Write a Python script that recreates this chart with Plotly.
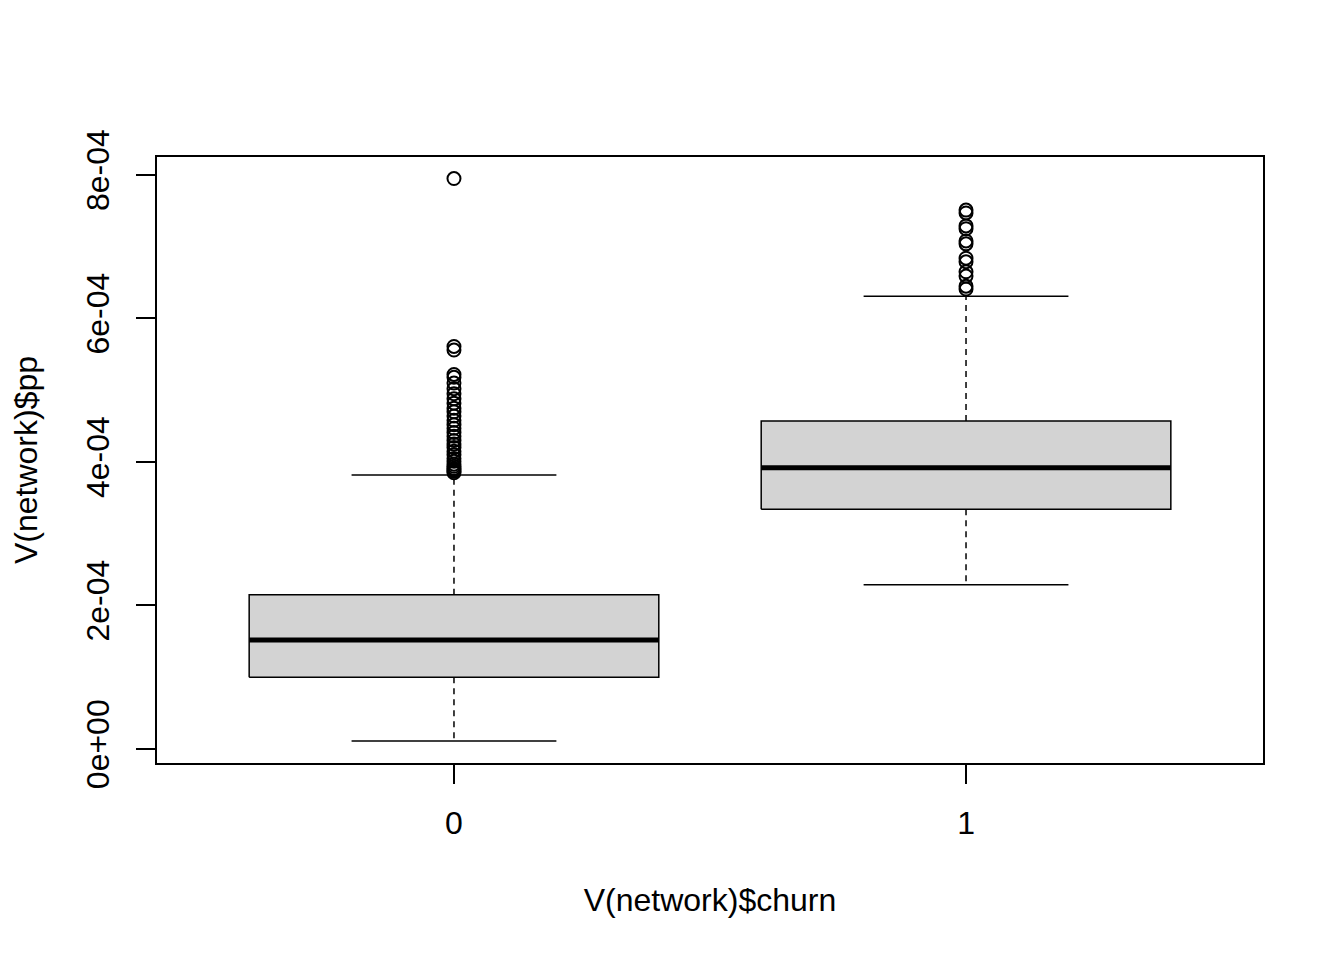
import plotly.graph_objects as go

categories = ["0", "1"]
lower_whisker = [1.1e-5, 2.29e-4]
q1 = [1.00e-4, 3.34e-4]
median = [1.52e-4, 3.92e-4]
q3 = [2.15e-4, 4.57e-4]
upper_whisker = [3.82e-4, 6.31e-4]
outliers_0 = [7.95e-4, 5.61e-4, 5.56e-4, 5.22e-4, 5.18e-4, 5.10e-4, 5.02e-4, 4.95e-4,
              4.88e-4, 4.82e-4, 4.75e-4, 4.70e-4, 4.64e-4, 4.58e-4, 4.52e-4, 4.47e-4,
              4.41e-4, 4.36e-4, 4.30e-4, 4.25e-4, 4.20e-4, 4.15e-4, 4.10e-4, 4.05e-4,
              4.01e-4, 3.97e-4, 3.94e-4, 3.91e-4, 3.89e-4, 3.87e-4, 3.85e-4]
outliers_1 = [7.51e-4, 7.47e-4, 7.29e-4, 7.25e-4, 7.08e-4, 7.04e-4, 6.84e-4, 6.79e-4,
              6.65e-4, 6.59e-4, 6.45e-4, 6.41e-4]
outliers = [outliers_0, outliers_1]
ytick_vals = [0, 2e-4, 4e-4, 6e-4, 8e-4]
ytick_text = ["0e+00", "2e-04", "4e-04", "6e-04", "8e-04"]

FONT = "Liberation Sans, Arial, sans-serif"
half_box = 0.4
half_cap = 0.2

fig = go.Figure()
for i, cat in enumerate(categories):
    p = i + 1
    fig.add_trace(go.Scatter(
        x=[p - half_box, p + half_box, p + half_box, p - half_box, p - half_box],
        y=[q1[i], q1[i], q3[i], q3[i], q1[i]],
        mode="lines", fill="toself", fillcolor="#D3D3D3",
        line=dict(color="black", width=1.5), hoverinfo="skip", showlegend=False))
    fig.add_trace(go.Scatter(
        x=[p - half_box, p + half_box], y=[median[i], median[i]],
        mode="lines", line=dict(color="black", width=5), showlegend=False))
    fig.add_trace(go.Scatter(
        x=[p, p, None, p, p],
        y=[q3[i], upper_whisker[i], None, q1[i], lower_whisker[i]],
        mode="lines", line=dict(color="black", width=1.5, dash="6px,5px"),
        showlegend=False))
    fig.add_trace(go.Scatter(
        x=[p - half_cap, p + half_cap, None, p - half_cap, p + half_cap],
        y=[upper_whisker[i], upper_whisker[i], None, lower_whisker[i], lower_whisker[i]],
        mode="lines", line=dict(color="black", width=1.5), showlegend=False))
    fig.add_trace(go.Scatter(
        x=[p] * len(outliers[i]), y=outliers[i], mode="markers",
        marker=dict(symbol="circle-open", size=13, color="black", line=dict(width=2)),
        showlegend=False))

fig.update_layout(
    width=1336, height=952,
    margin=dict(l=149, r=81, t=149, b=197),
    paper_bgcolor="white", plot_bgcolor="white",
    font=dict(family=FONT, size=32, color="black"),
)
fig.update_xaxes(
    range=[0.42, 2.58], tickvals=[1, 2], ticktext=categories, automargin=False,
    showline=True, mirror=True, linecolor="black", linewidth=1.5,
    ticks="outside", ticklen=19, tickwidth=1.5, tickcolor="black",
    showgrid=False, zeroline=False, ticklabelstandoff=12,
    title=dict(text="V(network)$churn", font=dict(size=32), standoff=48),
)
fig.update_yaxes(
    range=[-1.95e-5, 8.25e-4], tickvals=ytick_vals, ticktext=ytick_text,
    tickangle=-90, automargin=False,
    showline=True, mirror=True, linecolor="black", linewidth=1.5,
    ticks="outside", ticklen=19, tickwidth=1.5, tickcolor="black",
    showgrid=False, zeroline=False, ticklabelstandoff=14,
    title=dict(text="V(network)$pp", font=dict(size=32), standoff=45),
)
fig.write_html("out.html")
